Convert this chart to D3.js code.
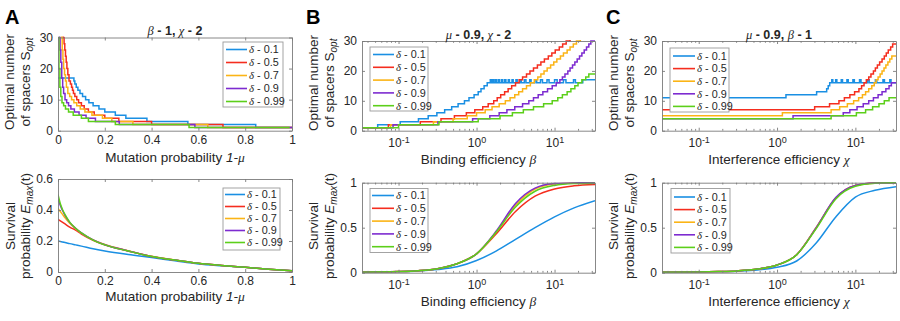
<!DOCTYPE html>
<html><head><meta charset="utf-8">
<script src="https://cdn.jsdelivr.net/npm/d3@7"></script>
<style>
body{margin:0;background:#fff;}
svg{display:block;font-family:"Liberation Sans",Arial,Helvetica,sans-serif;}
</style></head><body>
<svg id="c" width="900" height="321"></svg>
<script>
// ---------------- DATA ----------------
const deltas = ["0.1","0.5","0.7","0.9","0.99"];
const colors = ["#1a8fe3","#f52d1e","#fbb416","#7d2bd0","#5ccf1a"];

// Panel A top: optimal spacers vs mutation probability (step data [x, S])
const aTopBlue = [[0,17],[0.068,16],[0.072,15],[0.078,14],[0.085,13],[0.094,12],[0.105,11],[0.118,10],[0.132,9],[0.15,8],[0.175,7],[0.2,6],[0.245,5],[0.29,4],[0.38,3],[0.555,2],[0.845,1],[1,1]];
const aTopRed = [[0,40],[0.022,30],[0.026,28],[0.029,26],[0.032,24],[0.035,22],[0.038,20],[0.042,18],[0.047,16],[0.053,15],[0.058,14],[0.062,13],[0.066,12],[0.072,11],[0.08,10],[0.088,9],[0.1,8],[0.112,7],[0.13,6],[0.155,5],[0.2,4],[0.26,3],[0.4,2],[0.705,1],[1,1]];
const aTopYellow = [[0,40],[0.015,30],[0.018,26],[0.021,23],[0.024,20],[0.028,18],[0.032,16],[0.036,14],[0.042,12],[0.05,11],[0.058,10],[0.068,9],[0.08,8],[0.095,7],[0.115,6],[0.145,5],[0.19,4],[0.23,3],[0.32,2],[0.64,1],[1,1]];
const aTopPurple = [[0,40],[0.006,30],[0.009,26],[0.012,22],[0.016,17],[0.02,14],[0.024,12],[0.03,10],[0.037,9],[0.045,8],[0.055,7],[0.07,6],[0.09,5],[0.12,4],[0.16,3],[0.262,2],[0.585,1],[1,1]];
const aTopGreen = [[0,30],[0.004,20],[0.008,14],[0.012,11],[0.017,9],[0.024,8],[0.032,7],[0.045,6],[0.065,5],[0.1,4],[0.13,3],[0.245,2],[0.56,1],[0.99,1]];

// Panel A bottom: survival probability vs mutation probability
const aBotX = [0,0.01,0.02,0.03,0.05,0.075,0.1,0.15,0.2,0.3,0.4,0.5,0.6,0.7,0.8,0.9,1];
const aBotBlue = [0.20,0.197,0.193,0.19,0.183,0.175,0.167,0.15,0.136,0.113,0.093,0.072,0.052,0.04,0.03,0.018,0.008];
const aBotRed = [0.34,0.33,0.32,0.31,0.29,0.27,0.245,0.205,0.175,0.136,0.1,0.077,0.056,0.042,0.03,0.018,0.008];
const aBotYellow = [0.41,0.39,0.37,0.35,0.315,0.28,0.25,0.207,0.177,0.137,0.101,0.078,0.056,0.042,0.03,0.018,0.008];
const aBotPurple = [0.47,0.43,0.395,0.365,0.32,0.282,0.252,0.207,0.176,0.136,0.1,0.077,0.056,0.042,0.03,0.018,0.008];
const aBotGreen = [0.50,0.44,0.40,0.37,0.322,0.282,0.252,0.206,0.175,0.135,0.1,0.077,0.056,0.042,0.03,0.018,0.008];

// Panel B top: optimal spacers vs binding efficiency beta (step data)
const bTopBlue = [[0.03,1],[0.054,2],[0.105,3],[0.18,4],[0.24,5],[0.31,6],[0.39,7],[0.48,8],[0.58,9],[0.7,10],[0.8,11],[0.93,12],[1.05,13],[1.14,14],[1.25,15],[1.37,16],[1.5,17],[1.55,16],[1.62,17],[1.68,16],[1.76,17],[1.82,16],[1.92,17],[1.98,16],[2.1,17],[2.17,16],[2.3,17],[2.38,16],[2.55,17],[2.64,16],[2.85,17],[2.95,16],[3.2,17],[3.32,16],[3.6,17],[3.75,16],[4.1,17],[4.3,16],[4.8,17],[5.0,16],[5.6,17],[5.9,16],[6.6,17],[7.0,16],[8.0,17],[8.5,16],[10,17],[10.8,16],[13,17],[14,16],[17.5,17],[18.5,16],[23,17],[33,17]];
const bTopRed = [[0.03,1],[0.074,2],[0.19,3],[0.35,4],[0.52,5],[0.74,6],[0.95,7],[1.2,8],[1.41,9],[1.66,10],[1.84,11],[2.04,12],[2.29,13],[2.54,14],[2.82,15],[3.16,16],[3.51,17],[3.89,18],[4.37,19],[4.84,20],[5.37,21],[6.03,22],[6.68,23],[7.41,24],[8.32,25],[9.23,26],[10.2,27],[11.5,28],[12.7,29],[14.1,30],[15.8,31],[33,31]];
const bTopYellow = [[0.03,1],[0.079,2],[0.28,3],[0.5,4],[0.76,5],[1.0,6],[1.29,7],[1.58,8],[1.95,9],[2.34,10],[2.69,11],[3.09,12],[3.47,13],[3.89,14],[4.37,15],[4.9,16],[5.5,17],[6.1,18],[6.68,19],[7.33,20],[8.04,21],[8.9,22],[9.77,23],[10.7,24],[11.9,25],[13,26],[14.5,27],[15.8,28],[17.4,29],[19.1,30],[21.4,31],[33,31]];
const bTopPurple = [[0.03,1],[0.085,2],[0.32,3],[0.89,4],[1.48,5],[1.95,6],[2.45,7],[3.09,8],[3.89,9],[4.68,10],[5.37,11],[6.17,12],[7.08,13],[8.13,14],[9.33,15],[10.5,16],[11.7,17],[12.6,18],[13.6,19],[14.8,20],[15.8,21],[17,22],[18.2,23],[19.5,24],[20.9,25],[22.4,26],[24,27],[25.7,28],[27.5,29],[29.2,30],[33,30]];
const bTopGreen = [[0.03,1],[0.1,2],[0.33,3],[1.05,4],[2.0,5],[2.88,6],[3.98,7],[5.37,8],[7.24,9],[9.33,10],[11,11],[12.6,12],[14.5,13],[16.2,14],[18.2,15],[20,16],[22.4,17],[25.1,18],[27.5,19],[33,19]];

// Panel B bottom: survival probability vs beta
const bBotX = [0.034,0.1,0.178,0.316,0.562,1,1.78,3.16,5.62,10,17.8,33];
const bBotBlue = [0.005,0.01,0.018,0.035,0.065,0.135,0.24,0.37,0.5,0.62,0.72,0.8];
const bBotRed = [0.005,0.012,0.022,0.045,0.1,0.21,0.43,0.68,0.85,0.93,0.965,0.98];
const bBotYellow = [0.005,0.012,0.022,0.045,0.1,0.21,0.45,0.75,0.93,0.985,0.997,1.0];
const bBotPurple = [0.005,0.012,0.022,0.045,0.1,0.21,0.46,0.77,0.94,0.99,0.998,1.0];
const bBotGreen = [0.005,0.012,0.022,0.045,0.1,0.21,0.45,0.73,0.905,0.97,0.99,0.995];

// Panel C top: optimal spacers vs interference efficiency chi (step data)
const cTopBlue = [[0.03,11],[1.3,12],[3.2,13],[4.3,14],[4.5,15],[4.7,16],[5.0,17],[5.15,16],[5.6,17],[5.8,16],[6.6,17],[6.85,16],[7.8,17],[8.1,16],[9.3,17],[9.7,16],[11.3,17],[11.8,16],[14.3,17],[15,16],[18,17],[18.8,16],[22.5,17],[23.5,16],[27.5,17],[28.5,16],[33,16]];
const cTopRed = [[0.03,7],[3.02,8],[4.68,9],[6.17,10],[7.24,11],[8.51,12],[9.77,13],[11.1,14],[12.0,15],[12.9,16],[13.8,17],[14.8,18],[15.8,19],[17.0,20],[18.0,21],[19.1,22],[20.4,23],[21.9,24],[23.4,25],[24.8,26],[26.3,27],[28.2,28],[29.9,29],[33,29]];
const cTopYellow = [[0.03,5],[1.17,6],[4.9,7],[6.3,8],[7.9,9],[9.5,10],[11,11],[12.3,12],[13.5,13],[14.8,14],[16.2,15],[17.4,16],[18.4,17],[19.5,18],[20.7,19],[21.9,20],[23.2,21],[24.5,22],[26,23],[27.5,24],[29.2,25],[33,25]];
const cTopPurple = [[0.03,4],[1.6,5],[7.0,6],[8.5,7],[10.5,8],[12.6,9],[14.8,10],[17,11],[19.5,12],[21.9,13],[24.5,14],[26.9,15],[28.8,16],[33,16]];
const cTopGreen = [[0.03,4],[4.9,5],[10.3,6],[13.5,7],[16.6,8],[20,9],[23.4,10],[26.9,11],[33,11]];

// Panel C bottom: survival probability vs chi
const cBotX = [0.034,0.1,0.178,0.316,0.562,1,1.78,3.16,5.62,10,17.8,33];
const cBotBlue = [0.004,0.007,0.01,0.017,0.03,0.06,0.13,0.33,0.62,0.84,0.915,0.955];
const cBotRed = [0.005,0.008,0.012,0.02,0.04,0.085,0.2,0.5,0.83,0.97,0.996,1.0];
const cBotYellow = [0.005,0.008,0.012,0.02,0.04,0.085,0.2,0.5,0.83,0.968,0.995,1.0];
const cBotPurple = [0.005,0.008,0.012,0.02,0.04,0.086,0.2,0.5,0.835,0.97,0.996,1.0];
const cBotGreen = [0.005,0.008,0.012,0.02,0.04,0.085,0.198,0.49,0.82,0.96,0.993,0.999];

// Tick values
const linXTicks = [0,0.2,0.4,0.6,0.8,1];
const logMajor = [0.1,1,10];
const logMinor = [0.04,0.05,0.06,0.07,0.08,0.09,0.2,0.3,0.4,0.5,0.6,0.7,0.8,0.9,2,3,4,5,6,7,8,9,20,30];
const spacerTicks = [0,10,20,30];
const survTicksA = [0,0.2,0.4,0.6];
const survTicksBC = [0,0.5,1];

// ---------------- DRAW ----------------
const svg = d3.select("#c");
const TXT = "#262626";
const AXC = "#7a7a7a";
const SERIF = "'Liberation Serif','DejaVu Serif',serif";

function zipS(xs, ys){ return d3.zip(xs, ys); }

function addRich(sel, parts){
  parts.forEach(p=>{
    const t = sel.append("tspan").text(p.t);
    if(p.i) t.attr("font-style","italic");
    if(p.serif) t.attr("font-family", SERIF);
    if(p.b) t.attr("font-weight","bold");
    if(p.nb) t.attr("font-weight","normal");
    if(p.dy) t.attr("dy", p.dy);
    if(p.fs) t.attr("font-size", p.fs);
  });
}

function panel(cfg){
  const x = (cfg.log ? d3.scaleLog() : d3.scaleLinear()).domain(cfg.xDomain).range([cfg.left, cfg.right]);
  const y = d3.scaleLinear().domain(cfg.yDomain).range([cfg.bottom, cfg.top]);
  const g = svg.append("g");
  const cid = "clip" + cfg.id;
  svg.append("clipPath").attr("id", cid).append("rect")
    .attr("x", cfg.left).attr("y", cfg.top - 1)
    .attr("width", cfg.right - cfg.left).attr("height", cfg.bottom - cfg.top + 1);

  // series
  const lg = g.append("g").attr("clip-path", `url(#${cid})`);
  const line = d3.line().x(d=>x(d[0])).y(d=>y(d[1]))
    .curve(cfg.step ? d3.curveStepAfter : d3.curveMonotoneX);
  cfg.series.forEach((s,i)=>{
    lg.append("path").datum(s).attr("d", line).attr("fill","none")
      .attr("stroke", colors[i]).attr("stroke-width", 1.5);
  });

  // axes
  const styleAxis = a => {
    a.attr("font-size", null).attr("font-family", null);
    a.selectAll("path.domain").attr("stroke", AXC).attr("stroke-width", 0.9);
    a.selectAll(".tick line").attr("stroke", AXC).attr("stroke-width", 0.9);
    a.selectAll("text").attr("fill", TXT).attr("font-size", "12px");
  };
  const fmt = d3.format("~g");
  const bx = g.append("g").attr("transform", `translate(0,${cfg.bottom})`)
    .call(d3.axisBottom(x).tickValues(cfg.log ? logMajor : cfg.xTicks).tickSizeInner(-3).tickSizeOuter(0)
      .tickPadding(cfg.log ? 8 : 4.5).tickFormat(fmt));
  styleAxis(bx);
  if(cfg.log){
    bx.selectAll("text").each(function(d){
      const t = d3.select(this); t.text("10");
      t.append("tspan").attr("dy","-0.45em").attr("font-size","9px").text(Math.round(Math.log10(d)));
    });
  }
  const tx = g.append("g").attr("transform", `translate(0,${cfg.top})`)
    .call(d3.axisTop(x).tickValues(cfg.log ? logMajor : cfg.xTicks).tickSizeInner(-3).tickSizeOuter(0).tickFormat(""));
  styleAxis(tx);
  if(cfg.log){
    [[cfg.bottom, d3.axisBottom],[cfg.top, d3.axisTop]].forEach(([yy, ax])=>{
      const m = g.append("g").attr("transform", `translate(0,${yy})`)
        .call(ax(x).tickValues(logMinor).tickSizeInner(-1.8).tickSizeOuter(0).tickFormat(""));
      styleAxis(m); m.select("path.domain").remove();
    });
  }
  const ly = g.append("g").attr("transform", `translate(${cfg.left},0)`)
    .call(d3.axisLeft(y).tickValues(cfg.yTicks).tickSizeInner(-3).tickSizeOuter(0).tickPadding(5).tickFormat(fmt));
  styleAxis(ly);
  const ry = g.append("g").attr("transform", `translate(${cfg.right},0)`)
    .call(d3.axisRight(y).tickValues(cfg.yTicks).tickSizeInner(-3).tickSizeOuter(0).tickFormat(""));
  styleAxis(ry);

  // x label
  const xl = g.append("text").attr("x", (cfg.left+cfg.right)/2).attr("y", cfg.xlabelY)
    .attr("text-anchor","middle").attr("font-size","13.5px").attr("fill", TXT);
  addRich(xl, cfg.xlabel);

  // y label (two lines)
  cfg.ylabel.forEach((parts, k)=>{
    const t = g.append("text")
      .attr("transform", `translate(${cfg.ylabelX[k]},${cfg.ylabelCY}) rotate(-90)`)
      .attr("text-anchor","middle").attr("font-size","13.5px").attr("fill", TXT);
    addRich(t, parts);
  });

  // title
  if(cfg.title){
    const tt = g.append("text").attr("x", (cfg.left+cfg.right)/2).attr("y", cfg.titleY)
      .attr("text-anchor","middle").attr("font-size","12.5px").attr("font-weight","bold").attr("fill", TXT);
    addRich(tt, cfg.title);
  }

  // legend
  const L = cfg.legend;
  const leg = g.append("g");
  leg.append("rect").attr("x", L.x).attr("y", L.y).attr("width", L.w).attr("height", L.h)
    .attr("fill","#fff").attr("stroke", "#9a9a9a").attr("stroke-width", 0.9);
  deltas.forEach((dl, i)=>{
    const yy = L.row0 + i * L.dy;
    leg.append("line").attr("x1", L.l0).attr("x2", L.l1).attr("y1", yy).attr("y2", yy)
      .attr("stroke", colors[i]).attr("stroke-width", 1.6);
    const t = leg.append("text").attr("x", L.tx).attr("y", yy).attr("dy","0.36em")
      .attr("font-size","10.8px").attr("fill", TXT);
    addRich(t, [{t:"δ", i:true, serif:true},{t:" - " + dl}]);
  });

  // panel letter
  if(cfg.letter){
    g.append("text").attr("x", cfg.letter.x).attr("y", 24).attr("font-size","20px")
      .attr("font-weight","bold").attr("fill","#000").text(cfg.letter.t);
  }
}

const ylabTop = [[{t:"Optimal number"}],[{t:"of spacers S"},{t:"opt", i:true, dy:"3px", fs:"10px"}]];
const ylabBot = [[{t:"Survival"}],[{t:"probability "},{t:"E", i:true},{t:"max", i:true, dy:"3px", fs:"10px"},{t:"(t)", dy:"-3px"}]];
const series5 = (a,b,c,d,e)=>[a,b,c,d,e];

// A top
panel({id:"at", log:false, xDomain:[0,1], yDomain:[0,30], left:58, right:292, top:37.5, bottom:130.7,
  xTicks:linXTicks, yTicks:spacerTicks, step:true,
  series: series5(aTopBlue,aTopRed,aTopYellow,aTopPurple,aTopGreen),
  xlabel:[{t:"Mutation probability "},{t:"1-", i:true},{t:"μ", i:true, serif:true}], xlabelY:162,
  ylabel:ylabTop, ylabelX:[14,29.5], ylabelCY:82,
  title:[{t:"β", i:true, serif:true, nb:true},{t:" - 1, "},{t:"χ", i:true, serif:true, nb:true},{t:" - 2"}], titleY:35,
  legend:{x:223, y:42, w:60, h:65, row0:49.5, dy:13, l0:226, l1:247, tx:249},
  letter:{x:5, t:"A"}});

// A bottom
panel({id:"ab", log:false, xDomain:[0,1], yDomain:[0,0.6], left:58, right:292, top:179, bottom:272,
  xTicks:linXTicks, yTicks:survTicksA, step:false,
  series: series5(zipS(aBotX,aBotBlue),zipS(aBotX,aBotRed),zipS(aBotX,aBotYellow),zipS(aBotX,aBotPurple),zipS(aBotX,aBotGreen)),
  xlabel:[{t:"Mutation probability "},{t:"1-", i:true},{t:"μ", i:true, serif:true}], xlabelY:301,
  ylabel:ylabBot, ylabelX:[15,30], ylabelCY:226,
  legend:{x:223, y:188, w:57, h:62, row0:194.5, dy:12, l0:225, l1:245, tx:247}});

// B top
panel({id:"bt", log:true, xDomain:[0.034,33], yDomain:[0,30], left:362, right:595, top:41, bottom:130.7,
  yTicks:spacerTicks, step:true,
  series: series5(bTopBlue,bTopRed,bTopYellow,bTopPurple,bTopGreen),
  xlabel:[{t:"Binding efficiency "},{t:"β", i:true, serif:true}], xlabelY:164,
  ylabel:ylabTop, ylabelX:[318,333.5], ylabelCY:83,
  title:[{t:"μ", i:true, serif:true, nb:true},{t:" - 0.9, "},{t:"χ", i:true, serif:true, nb:true},{t:" - 2"}], titleY:39,
  legend:{x:370, y:47, w:58, h:64, row0:54.5, dy:12.8, l0:373, l1:394, tx:396},
  letter:{x:306, t:"B"}});

// B bottom
panel({id:"bb", log:true, xDomain:[0.034,33], yDomain:[0,1], left:362, right:595, top:182.7, bottom:272.7,
  yTicks:survTicksBC, step:false,
  series: series5(zipS(bBotX,bBotBlue),zipS(bBotX,bBotRed),zipS(bBotX,bBotYellow),zipS(bBotX,bBotPurple),zipS(bBotX,bBotGreen)),
  xlabel:[{t:"Binding efficiency "},{t:"β", i:true, serif:true}], xlabelY:306,
  ylabel:ylabBot, ylabelX:[318,334], ylabelCY:226,
  legend:{x:370, y:188.5, w:58, h:64, row0:195.5, dy:12.8, l0:372, l1:394, tx:396}});

// C top
panel({id:"ct", log:true, xDomain:[0.034,33], yDomain:[0,30], left:662, right:896, top:41, bottom:130.7,
  yTicks:spacerTicks, step:true,
  series: series5(cTopBlue,cTopRed,cTopYellow,cTopPurple,cTopGreen),
  xlabel:[{t:"Interference efficiency "},{t:"χ", i:true, serif:true}], xlabelY:164,
  ylabel:ylabTop, ylabelX:[618,633.5], ylabelCY:83,
  title:[{t:"μ", i:true, serif:true, nb:true},{t:" - 0.9, "},{t:"β", i:true, serif:true, nb:true},{t:" - 1"}], titleY:39,
  legend:{x:670, y:48, w:59, h:64, row0:56, dy:12.6, l0:673, l1:695, tx:697},
  letter:{x:606, t:"C"}});

// C bottom
panel({id:"cb", log:true, xDomain:[0.034,33], yDomain:[0,1], left:662, right:896, top:182.7, bottom:272.7,
  yTicks:survTicksBC, step:false,
  series: series5(zipS(cBotX,cBotBlue),zipS(cBotX,cBotRed),zipS(cBotX,cBotYellow),zipS(cBotX,cBotPurple),zipS(cBotX,cBotGreen)),
  xlabel:[{t:"Interference efficiency "},{t:"χ", i:true, serif:true}], xlabelY:306,
  ylabel:ylabBot, ylabelX:[618,634], ylabelCY:226,
  legend:{x:671, y:188.5, w:59, h:64.5, row0:197, dy:12.6, l0:674, l1:695, tx:697}});
</script>
</body></html>
